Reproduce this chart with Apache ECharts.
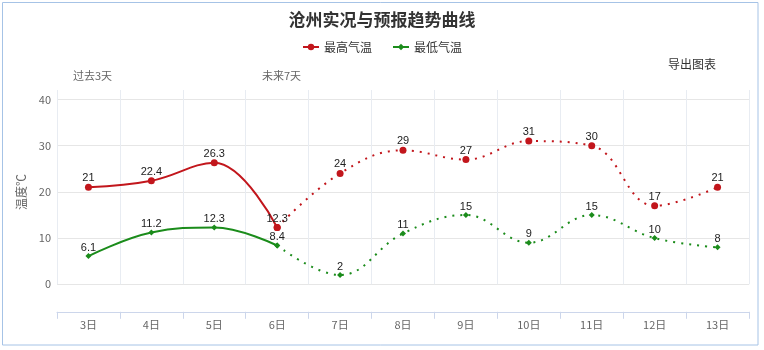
<!DOCTYPE html>
<html><head><meta charset="utf-8">
<script src="https://cdn.jsdelivr.net/npm/echarts@6/dist/echarts.min.js"></script>
<style>html,body{margin:0;padding:0;background:#fff}#c{width:764px;height:350px}</style>
</head><body><div id="c"></div>
<script>
const categories = ['3日','4日','5日','6日','7日','8日','9日','10日','11日','12日','13日'];
const maxPast = [21, 22.4, 26.3, 12.3, null, null, null, null, null, null, null];
const maxFuture = [null, null, null, 12.3, 24, 29, 27, 31, 30, 17, 21];
const minPast = [6.1, 11.2, 12.3, 8.4, null, null, null, null, null, null, null];
const minFuture = [null, null, null, 8.4, 2, 11, 15, 9, 15, 10, 8];
const yTicks = [0, 40, 10];

const RED = '#c2161c', GREEN = '#1b8c1b';
const FONT = '"Noto Sans CJK SC", sans-serif';
const lbl = {show: true, position: 'top', distance: 0, fontFamily: 'Liberation Sans', fontSize: 11, color: '#222'};
function hideFirst(arr){ return arr.map((v,i)=> (i===3 ? {value: v, label:{show:false}} : v)); }

const chart = echarts.init(document.getElementById('c'));
chart.setOption({
  animation: false,
  backgroundColor: '#fff',
  title: {text: '沧州实况与预报趋势曲线', left: 'center', top: 6,
    textStyle: {fontFamily: FONT, fontSize: 17, fontWeight: 'bold', color: '#333'}},
  legend: {top: 36, left: 'center', itemGap: 20, itemWidth: 16, itemHeight: 8,
    data: ['最高气温','最低气温'],
    textStyle: {fontFamily: FONT, fontSize: 12, color: '#333'}},
  graphic: [
    {type: 'rect', shape: {x: 2.5, y: 2.5, width: 755.5, height: 342.5}, style: {fill: 'none', stroke: '#a6c3e6', lineWidth: 1}, silent: true},
    {type: 'text', left: 668, top: 58, style: {text: '导出图表', font: '12px ' + FONT, fill: '#333'}},
    {type: 'text', left: 73, top: 70, style: {text: '过去3天', font: '11px ' + FONT, fill: '#666'}},
    {type: 'text', left: 262, top: 70, style: {text: '未来7天', font: '11px ' + FONT, fill: '#666'}}
  ],
  grid: [
    {left: 57, right: 15, top: 99.5, bottom: 65.7},
    {left: 57, right: 15, top: 90, bottom: 65.7}
  ],
  xAxis: [
    {type: 'category', data: categories, gridIndex: 0, boundaryGap: true, offset: 27.5,
      axisLine: {show: true, onZero: false, lineStyle: {color: '#ccd6eb'}},
      axisTick: {show: true, inside: false, length: 7, lineStyle: {color: '#ccd6eb'}},
      axisLabel: {color: '#666', fontFamily: FONT, fontSize: 11, margin: 8},
      splitLine: {show: false}},
    {type: 'category', data: categories, gridIndex: 1, boundaryGap: true,
      axisLine: {show: false}, axisTick: {show: false}, axisLabel: {show: false},
      splitLine: {show: true, lineStyle: {color: '#e8ecf2', width: 1}}}
  ],
  yAxis: [
    {type: 'value', gridIndex: 0, min: yTicks[0], max: yTicks[1], interval: yTicks[2],
      name: '温度℃', nameLocation: 'middle', nameGap: 22, nameRotate: 90,
      nameTextStyle: {fontFamily: FONT, fontSize: 12, color: '#666'},
      axisLine: {show: false}, axisTick: {show: false},
      axisLabel: {color: '#666', fontFamily: FONT, fontSize: 11, margin: 6},
      splitLine: {show: true, lineStyle: {color: '#e6e6e6'}}},
    {type: 'value', gridIndex: 1, show: false, min: 0, max: 1}
  ],
  series: [
    {name: '最高气温', type: 'line', data: maxPast, smooth: 0.4, color: RED,
      symbol: 'circle', symbolSize: 7, lineStyle: {width: 2, color: RED},
      itemStyle: {color: RED}, label: lbl},
    {name: '最高气温', type: 'line', data: hideFirst(maxFuture), smooth: 0.4, color: RED,
      symbol: 'circle', symbolSize: 7, lineStyle: {width: 2, color: RED, type: [2, 6]},
      itemStyle: {color: RED}, label: lbl},
    {name: '最低气温', type: 'line', data: minPast, smooth: 0.4, color: GREEN,
      symbol: 'diamond', symbolSize: 6, lineStyle: {width: 2, color: GREEN},
      itemStyle: {color: GREEN}, label: lbl},
    {name: '最低气温', type: 'line', data: hideFirst(minFuture), smooth: 0.4, color: GREEN,
      symbol: 'diamond', symbolSize: 6, lineStyle: {width: 2, color: GREEN, type: [2, 6]},
      itemStyle: {color: GREEN}, label: lbl}
  ]
});
</script></body></html>
